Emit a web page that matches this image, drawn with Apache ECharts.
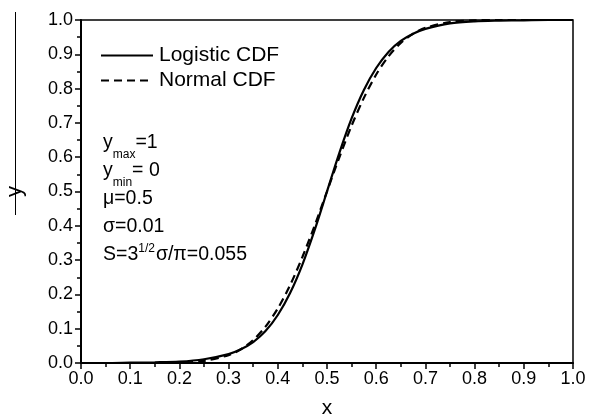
<!DOCTYPE html>
<html>
<head>
<meta charset="utf-8">
<script src="https://cdn.jsdelivr.net/npm/echarts@6/dist/echarts.min.js"></script>
<style>
  html, body { margin: 0; padding: 0; background: #fff; }
  #main { width: 595px; height: 419px; }
</style>
</head>
<body>
<div id="main"></div>
<script>
// x positions and curve values
let xValues = [0, 0.05, 0.1, 0.15, 0.2, 0.25, 0.3, 0.325, 0.35, 0.375, 0.4, 0.425, 0.45, 0.475, 0.5,
    0.525, 0.55, 0.575, 0.6, 0.625, 0.65, 0.675, 0.7, 0.75, 0.8, 0.85, 0.9, 0.95, 1.0];
let logisticValues = [0.000, 0.000, 0.001, 0.002, 0.004, 0.011, 0.026, 0.040, 0.061, 0.093, 0.140, 0.204, 0.287, 0.388, 0.500,
    0.612, 0.713, 0.796, 0.860, 0.907, 0.939, 0.960, 0.974, 0.990, 0.996, 0.998, 0.999, 1.000, 1.000];
let normalValues = [0.000, 0.000, 0.000, 0.000, 0.001, 0.006, 0.023, 0.040, 0.067, 0.106, 0.159, 0.227, 0.309, 0.401, 0.500,
    0.599, 0.692, 0.773, 0.841, 0.894, 0.933, 0.960, 0.977, 0.994, 0.999, 1.000, 1.000, 1.000, 1.000];

let logisticData = [];
let normalData = [];
for (let i = 0; i < xValues.length; i++) {
    logisticData.push([xValues[i], logisticValues[i]]);
    normalData.push([xValues[i], normalValues[i]]);
}

let font = 'Liberation Sans, Arial, sans-serif';

let option = {
    animation: false,
    grid: {
        left: 81, right: 22, top: 20, bottom: 56,
        outerBoundsMode: 'none',
        containLabel: false,
        show: true, borderColor: '#000', borderWidth: 1.5
    },
    legend: {
        orient: 'vertical',
        left: 95, top: 40,
        itemWidth: 52, itemHeight: 14, itemGap: 4,
        itemStyle: { opacity: 0 },
        textStyle: { fontFamily: font, fontSize: 21, color: '#000', padding: [0, 0, 0, 1] },
        data: ['Logistic CDF', 'Normal CDF']
    },
    xAxis: {
        type: 'value', min: 0, max: 1, interval: 0.1,
        name: 'x', nameLocation: 'middle', nameGap: 35,
        nameTextStyle: { fontFamily: font, fontSize: 21, color: '#000' },
        axisLine: { lineStyle: { color: '#000', width: 2 } },
        axisTick: { length: 6, lineStyle: { color: '#000', width: 1.5 } },
        minorTick: { show: true, splitNumber: 2, length: 4, lineStyle: { color: '#000', width: 1.5 } },
        splitLine: { show: false },
        axisLabel: { fontFamily: font, fontSize: 18, color: '#000', margin: 7,
            formatter: v => v.toFixed(1) }
    },
    yAxis: {
        type: 'value', min: 0, max: 1, interval: 0.1,
        name: 'y', nameLocation: 'middle', nameGap: 55, nameRotate: 90,
        nameTextStyle: { fontFamily: font, fontSize: 22, color: '#000' },
        axisLine: { show: true, lineStyle: { color: '#000', width: 2 } },
        axisTick: { show: true, length: 6, lineStyle: { color: '#000', width: 1.5 } },
        minorTick: { show: true, splitNumber: 2, length: 4, lineStyle: { color: '#000', width: 1.5 } },
        splitLine: { show: false },
        axisLabel: { fontFamily: font, fontSize: 18, color: '#000', margin: 8,
            formatter: v => v.toFixed(1) }
    },
    graphic: [
        {
            type: 'line',
            shape: { x1: 15.5, y1: 12, x2: 15.5, y2: 215 },
            style: { stroke: '#000', lineWidth: 1 }
        },
        {
            type: 'text',
            left: 103, top: 133,
            style: {
                text: '{m|y}{s|max}{m|=1}\n{m|y}{s|min}{m|= 0}\n{m|\u03bc=0.5}\n{m|\u03c3=0.01}\n{m|S=3}{p|1/2}{m|\u03c3/\u03c0=0.055}',
                fill: '#000',
                rich: {
                    m: { fontFamily: font, fontSize: 19.5, color: '#000', lineHeight: 28 },
                    s: { fontFamily: font, fontSize: 12, color: '#000', lineHeight: 28, verticalAlign: 'bottom', padding: [0, 0, -4, 0] },
                    p: { fontFamily: font, fontSize: 12, color: '#000', lineHeight: 28, verticalAlign: 'top', padding: [2, 1, 0, 0] }
                }
            }
        }
    ],
    series: [
        {
            name: 'Logistic CDF',
            type: 'line',
            data: logisticData,
            smooth: 0.3,
            symbol: 'none',
            lineStyle: { color: '#000', width: 2.2, type: 'solid' },
            itemStyle: { color: '#000' }
        },
        {
            name: 'Normal CDF',
            type: 'line',
            data: normalData,
            smooth: 0.3,
            symbol: 'none',
            lineStyle: { color: '#000', width: 2.2, type: [8, 5] },
            itemStyle: { color: '#000' }
        }
    ]
};

let chart = echarts.init(document.getElementById('main'));
chart.setOption(option);
</script>
</body>
</html>
